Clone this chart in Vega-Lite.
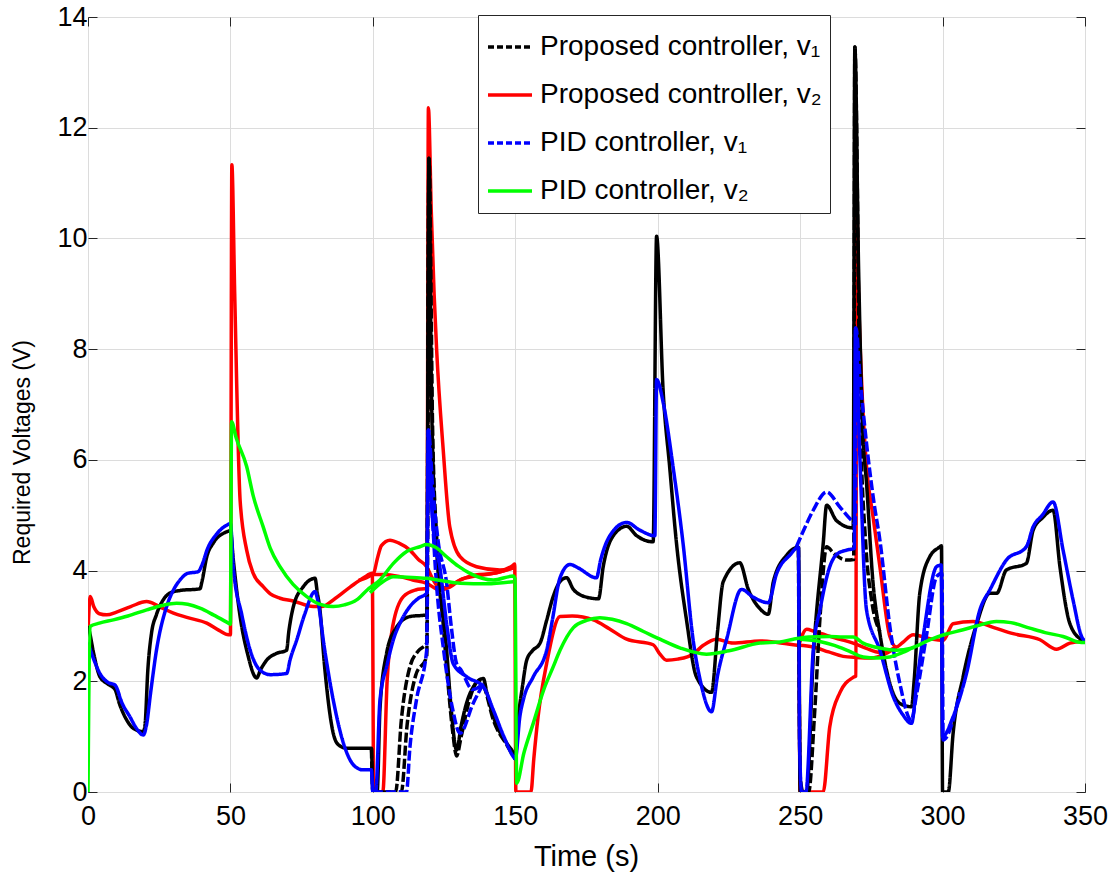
{
"$schema":"https://vega.github.io/schema/vega-lite/v6.json",
"width":997,"height":775,
"autosize":{"type":"none"},
"padding":{"left":88,"top":17,"right":30,"bottom":86},
"background":"white",
"config":{
 "font":"Liberation Sans",
 "view":{"stroke":"#262626","strokeWidth":1},
 "axis":{"domain":false,"tickColor":"#262626","tickSize":-9,"tickWidth":1,"labelColor":"black","labelFontSize":27,"labelFont":"Liberation Sans","labelFlush":false,"labelOverlap":false,"titleColor":"black","titleFontWeight":"normal","titleFont":"Liberation Sans","gridColor":"#dcdcdc","gridWidth":1}
},
"data":{"values":[
{"series":"Proposed controller, v₁","run":"a","t":0,"v":3.0},
{"series":"Proposed controller, v₁","run":"a","t":0.5,"v":2.9},
{"series":"Proposed controller, v₁","run":"a","t":2,"v":2.5},
{"series":"Proposed controller, v₁","run":"a","t":4.2,"v":2.08},
{"series":"Proposed controller, v₁","run":"a","t":7,"v":1.95},
{"series":"Proposed controller, v₁","run":"a","t":9.5,"v":1.85},
{"series":"Proposed controller, v₁","run":"a","t":11,"v":1.6},
{"series":"Proposed controller, v₁","run":"a","t":13.6,"v":1.3},
{"series":"Proposed controller, v₁","run":"a","t":15.9,"v":1.15},
{"series":"Proposed controller, v₁","run":"a","t":19.4,"v":1.09},
{"series":"Proposed controller, v₁","run":"a","t":20,"v":1.2},
{"series":"Proposed controller, v₁","run":"a","t":21,"v":2.2},
{"series":"Proposed controller, v₁","run":"a","t":22.3,"v":2.87},
{"series":"Proposed controller, v₁","run":"a","t":24,"v":3.2},
{"series":"Proposed controller, v₁","run":"a","t":26.4,"v":3.47},
{"series":"Proposed controller, v₁","run":"a","t":29,"v":3.6},
{"series":"Proposed controller, v₁","run":"a","t":32.3,"v":3.64},
{"series":"Proposed controller, v₁","run":"a","t":39.3,"v":3.67},
{"series":"Proposed controller, v₁","run":"a","t":40,"v":3.8},
{"series":"Proposed controller, v₁","run":"a","t":41.7,"v":4.25},
{"series":"Proposed controller, v₁","run":"a","t":44,"v":4.5},
{"series":"Proposed controller, v₁","run":"a","t":48.7,"v":4.7},
{"series":"Proposed controller, v₁","run":"a","t":50,"v":4.72},
{"series":"Proposed controller, v₁","run":"a","t":51,"v":4.2},
{"series":"Proposed controller, v₁","run":"a","t":53.4,"v":3.17},
{"series":"Proposed controller, v₁","run":"a","t":56,"v":2.5},
{"series":"Proposed controller, v₁","run":"a","t":59.2,"v":2.06},
{"series":"Proposed controller, v₁","run":"a","t":60.5,"v":2.2},
{"series":"Proposed controller, v₁","run":"a","t":62.7,"v":2.38},
{"series":"Proposed controller, v₁","run":"a","t":66,"v":2.5},
{"series":"Proposed controller, v₁","run":"a","t":69.7,"v":2.56},
{"series":"Proposed controller, v₁","run":"a","t":70.5,"v":2.9},
{"series":"Proposed controller, v₁","run":"a","t":72.1,"v":3.35},
{"series":"Proposed controller, v₁","run":"a","t":75.6,"v":3.71},
{"series":"Proposed controller, v₁","run":"a","t":79.7,"v":3.86},
{"series":"Proposed controller, v₁","run":"a","t":80.5,"v":3.6},
{"series":"Proposed controller, v₁","run":"a","t":81.4,"v":3.3},
{"series":"Proposed controller, v₁","run":"a","t":83,"v":2.3},
{"series":"Proposed controller, v₁","run":"a","t":86.1,"v":1.06},
{"series":"Proposed controller, v₁","run":"a","t":88,"v":0.85},
{"series":"Proposed controller, v₁","run":"a","t":90.8,"v":0.79},
{"series":"Proposed controller, v₁","run":"a","t":99.5,"v":0.79},
{"series":"Proposed controller, v₁","run":"a","t":100,"v":0},
{"series":"Proposed controller, v₁","run":"a","t":101.5,"v":0},
{"series":"Proposed controller, v₁","run":"a","t":102.5,"v":1.5},
{"series":"Proposed controller, v₁","run":"a","t":104.8,"v":2.5},
{"series":"Proposed controller, v₁","run":"a","t":108,"v":2.95},
{"series":"Proposed controller, v₁","run":"a","t":113,"v":3.17},
{"series":"Proposed controller, v₁","run":"a","t":118.9,"v":3.2},
{"series":"Proposed controller, v₁","run":"a","t":119.7,"v":11.45},
{"series":"Proposed controller, v₁","run":"a","t":120.5,"v":7.5},
{"series":"Proposed controller, v₁","run":"a","t":121.5,"v":5.3},
{"series":"Proposed controller, v₁","run":"a","t":122.4,"v":4.37},
{"series":"Proposed controller, v₁","run":"a","t":125.9,"v":2.56},
{"series":"Proposed controller, v₁","run":"a","t":127.5,"v":1.5},
{"series":"Proposed controller, v₁","run":"a","t":129.4,"v":0.76},
{"series":"Proposed controller, v₁","run":"a","t":131,"v":1.2},
{"series":"Proposed controller, v₁","run":"a","t":134.1,"v":1.78},
{"series":"Proposed controller, v₁","run":"a","t":138.8,"v":2.05},
{"series":"Proposed controller, v₁","run":"a","t":140,"v":1.8},
{"series":"Proposed controller, v₁","run":"a","t":142.3,"v":1.36},
{"series":"Proposed controller, v₁","run":"a","t":147,"v":0.88},
{"series":"Proposed controller, v₁","run":"a","t":149.3,"v":0.7},
{"series":"Proposed controller, v₁","run":"a","t":150,"v":0.6},
{"series":"Proposed controller, v₁","run":"a","t":151,"v":1.3},
{"series":"Proposed controller, v₁","run":"a","t":152.5,"v":1.9},
{"series":"Proposed controller, v₁","run":"a","t":154,"v":2.38},
{"series":"Proposed controller, v₁","run":"a","t":156,"v":2.55},
{"series":"Proposed controller, v₁","run":"a","t":158.7,"v":2.69},
{"series":"Proposed controller, v₁","run":"a","t":161,"v":3.1},
{"series":"Proposed controller, v₁","run":"a","t":163.3,"v":3.53},
{"series":"Proposed controller, v₁","run":"a","t":165.7,"v":3.8},
{"series":"Proposed controller, v₁","run":"a","t":168,"v":3.87},
{"series":"Proposed controller, v₁","run":"a","t":170.4,"v":3.66},
{"series":"Proposed controller, v₁","run":"a","t":175,"v":3.52},
{"series":"Proposed controller, v₁","run":"a","t":179.2,"v":3.49},
{"series":"Proposed controller, v₁","run":"a","t":180.9,"v":4.08},
{"series":"Proposed controller, v₁","run":"a","t":184.4,"v":4.63},
{"series":"Proposed controller, v₁","run":"a","t":189.1,"v":4.8},
{"series":"Proposed controller, v₁","run":"a","t":192.6,"v":4.63},
{"series":"Proposed controller, v₁","run":"a","t":198.4,"v":4.52},
{"series":"Proposed controller, v₁","run":"a","t":199.6,"v":10.04},
{"series":"Proposed controller, v₁","run":"a","t":201.9,"v":7.25},
{"series":"Proposed controller, v₁","run":"a","t":204.2,"v":5.87},
{"series":"Proposed controller, v₁","run":"a","t":206.6,"v":4.49},
{"series":"Proposed controller, v₁","run":"a","t":210.1,"v":3.11},
{"series":"Proposed controller, v₁","run":"a","t":213.6,"v":2.08},
{"series":"Proposed controller, v₁","run":"a","t":218.9,"v":1.8},
{"series":"Proposed controller, v₁","run":"a","t":221,"v":2.9},
{"series":"Proposed controller, v₁","run":"a","t":223,"v":3.8},
{"series":"Proposed controller, v₁","run":"a","t":228.8,"v":4.14},
{"series":"Proposed controller, v₁","run":"a","t":231.8,"v":3.66},
{"series":"Proposed controller, v₁","run":"a","t":235.9,"v":3.31},
{"series":"Proposed controller, v₁","run":"a","t":238.8,"v":3.21},
{"series":"Proposed controller, v₁","run":"a","t":240.6,"v":3.8},
{"series":"Proposed controller, v₁","run":"a","t":245.3,"v":4.28},
{"series":"Proposed controller, v₁","run":"a","t":249.4,"v":4.42},
{"series":"Proposed controller, v₁","run":"a","t":250,"v":0},
{"series":"Proposed controller, v₁","run":"a","t":252.3,"v":0},
{"series":"Proposed controller, v₁","run":"a","t":254.6,"v":2.42},
{"series":"Proposed controller, v₁","run":"a","t":258.1,"v":4.49},
{"series":"Proposed controller, v₁","run":"a","t":259.3,"v":5.18},
{"series":"Proposed controller, v₁","run":"a","t":262.8,"v":4.9},
{"series":"Proposed controller, v₁","run":"a","t":268.6,"v":4.77},
{"series":"Proposed controller, v₁","run":"a","t":269.2,"v":13.46},
{"series":"Proposed controller, v₁","run":"a","t":270.5,"v":9.5},
{"series":"Proposed controller, v₁","run":"a","t":272,"v":6.5},
{"series":"Proposed controller, v₁","run":"a","t":273.3,"v":5.58},
{"series":"Proposed controller, v₁","run":"a","t":275.6,"v":3.77},
{"series":"Proposed controller, v₁","run":"a","t":278,"v":2.86},
{"series":"Proposed controller, v₁","run":"a","t":281.5,"v":1.96},
{"series":"Proposed controller, v₁","run":"a","t":285,"v":1.6},
{"series":"Proposed controller, v₁","run":"a","t":289.1,"v":1.54},
{"series":"Proposed controller, v₁","run":"a","t":290,"v":2.0},
{"series":"Proposed controller, v₁","run":"a","t":292,"v":3.59},
{"series":"Proposed controller, v₁","run":"a","t":295.5,"v":4.25},
{"series":"Proposed controller, v₁","run":"a","t":299.1,"v":4.43},
{"series":"Proposed controller, v₁","run":"a","t":299.6,"v":4.45},
{"series":"Proposed controller, v₁","run":"a","t":300,"v":0},
{"series":"Proposed controller, v₁","run":"a","t":302,"v":0},
{"series":"Proposed controller, v₁","run":"a","t":303.7,"v":1.06},
{"series":"Proposed controller, v₁","run":"a","t":307.2,"v":2.08},
{"series":"Proposed controller, v₁","run":"a","t":312,"v":3.04},
{"series":"Proposed controller, v₁","run":"a","t":316.6,"v":3.59},
{"series":"Proposed controller, v₁","run":"a","t":319,"v":3.59},
{"series":"Proposed controller, v₁","run":"a","t":322.4,"v":4.01},
{"series":"Proposed controller, v₁","run":"a","t":329.4,"v":4.13},
{"series":"Proposed controller, v₁","run":"a","t":331.8,"v":4.73},
{"series":"Proposed controller, v₁","run":"a","t":335,"v":4.95},
{"series":"Proposed controller, v₁","run":"a","t":338.8,"v":5.09},
{"series":"Proposed controller, v₁","run":"a","t":341.2,"v":4.07},
{"series":"Proposed controller, v₁","run":"a","t":344.7,"v":3.04},
{"series":"Proposed controller, v₁","run":"a","t":348.8,"v":2.75},
{"series":"Proposed controller, v₁","run":"a","t":350,"v":2.72},
{"series":"Proposed controller, v₁","run":"b","t":99.5,"v":0.79},
{"series":"Proposed controller, v₁","run":"b","t":100,"v":0},
{"series":"Proposed controller, v₁","run":"b","t":108,"v":0},
{"series":"Proposed controller, v₁","run":"b","t":110,"v":1.3},
{"series":"Proposed controller, v₁","run":"b","t":113,"v":2.26},
{"series":"Proposed controller, v₁","run":"b","t":116,"v":2.55},
{"series":"Proposed controller, v₁","run":"b","t":118.9,"v":2.69},
{"series":"Proposed controller, v₁","run":"b","t":119.7,"v":11.45},
{"series":"Proposed controller, v₁","run":"b","t":121,"v":6.5},
{"series":"Proposed controller, v₁","run":"b","t":122.4,"v":4.6},
{"series":"Proposed controller, v₁","run":"b","t":124,"v":3.5},
{"series":"Proposed controller, v₁","run":"b","t":126,"v":2.2},
{"series":"Proposed controller, v₁","run":"b","t":128,"v":1.1},
{"series":"Proposed controller, v₁","run":"b","t":129.4,"v":0.65},
{"series":"Proposed controller, v₁","run":"b","t":131,"v":1.0},
{"series":"Proposed controller, v₁","run":"b","t":134.1,"v":1.7},
{"series":"Proposed controller, v₁","run":"b","t":137,"v":2.0},
{"series":"Proposed controller, v₁","run":"b","t":139,"v":1.9},
{"series":"Proposed controller, v₁","run":"b","t":142.3,"v":1.3},
{"series":"Proposed controller, v₁","run":"b","t":147,"v":0.85},
{"series":"Proposed controller, v₁","run":"b","t":150,"v":0.6},
{"series":"Proposed controller, v₁","run":"c","t":100,"v":0},
{"series":"Proposed controller, v₁","run":"c","t":110,"v":0},
{"series":"Proposed controller, v₁","run":"c","t":112,"v":1.2},
{"series":"Proposed controller, v₁","run":"c","t":115,"v":2.1},
{"series":"Proposed controller, v₁","run":"c","t":118.9,"v":2.45},
{"series":"Proposed controller, v₁","run":"c","t":119.7,"v":11.45},
{"series":"Proposed controller, v₁","run":"d","t":249.4,"v":4.42},
{"series":"Proposed controller, v₁","run":"d","t":250,"v":0.3},
{"series":"Proposed controller, v₁","run":"d","t":251,"v":0},
{"series":"Proposed controller, v₁","run":"d","t":253,"v":0},
{"series":"Proposed controller, v₁","run":"d","t":255,"v":1.36},
{"series":"Proposed controller, v₁","run":"d","t":257,"v":3.17},
{"series":"Proposed controller, v₁","run":"d","t":259.3,"v":4.43},
{"series":"Proposed controller, v₁","run":"d","t":262,"v":4.3},
{"series":"Proposed controller, v₁","run":"d","t":266.3,"v":4.19},
{"series":"Proposed controller, v₁","run":"d","t":268.8,"v":4.2},
{"series":"Proposed controller, v₁","run":"d","t":269.2,"v":13.46},
{"series":"Proposed controller, v₁","run":"d","t":271,"v":7.0},
{"series":"Proposed controller, v₁","run":"d","t":273,"v":4.5},
{"series":"Proposed controller, v₁","run":"d","t":275,"v":3.5},
{"series":"Proposed controller, v₁","run":"d","t":278,"v":2.9},
{"series":"Proposed controller, v₂","run":"a","t":0,"v":2.9},
{"series":"Proposed controller, v₂","run":"a","t":0.8,"v":3.53},
{"series":"Proposed controller, v₂","run":"a","t":2,"v":3.35},
{"series":"Proposed controller, v₂","run":"a","t":4,"v":3.22},
{"series":"Proposed controller, v₂","run":"a","t":6.6,"v":3.2},
{"series":"Proposed controller, v₂","run":"a","t":10,"v":3.25},
{"series":"Proposed controller, v₂","run":"a","t":15,"v":3.35},
{"series":"Proposed controller, v₂","run":"a","t":20.6,"v":3.44},
{"series":"Proposed controller, v₂","run":"a","t":25,"v":3.35},
{"series":"Proposed controller, v₂","run":"a","t":30,"v":3.23},
{"series":"Proposed controller, v₂","run":"a","t":35,"v":3.15},
{"series":"Proposed controller, v₂","run":"a","t":41.7,"v":3.05},
{"series":"Proposed controller, v₂","run":"a","t":46,"v":2.92},
{"series":"Proposed controller, v₂","run":"a","t":49.3,"v":2.84},
{"series":"Proposed controller, v₂","run":"a","t":50,"v":2.84},
{"series":"Proposed controller, v₂","run":"a","t":50.5,"v":11.33},
{"series":"Proposed controller, v₂","run":"a","t":51.5,"v":9.0},
{"series":"Proposed controller, v₂","run":"a","t":53.4,"v":5.27},
{"series":"Proposed controller, v₂","run":"a","t":55.7,"v":4.37},
{"series":"Proposed controller, v₂","run":"a","t":58,"v":3.95},
{"series":"Proposed controller, v₂","run":"a","t":61.5,"v":3.71},
{"series":"Proposed controller, v₂","run":"a","t":64,"v":3.58},
{"series":"Proposed controller, v₂","run":"a","t":67.4,"v":3.5},
{"series":"Proposed controller, v₂","run":"a","t":72,"v":3.45},
{"series":"Proposed controller, v₂","run":"a","t":79.1,"v":3.35},
{"series":"Proposed controller, v₂","run":"a","t":82,"v":3.35},
{"series":"Proposed controller, v₂","run":"a","t":86.1,"v":3.47},
{"series":"Proposed controller, v₂","run":"a","t":92,"v":3.7},
{"series":"Proposed controller, v₂","run":"a","t":97,"v":3.88},
{"series":"Proposed controller, v₂","run":"a","t":99.8,"v":3.95},
{"series":"Proposed controller, v₂","run":"a","t":100.3,"v":0},
{"series":"Proposed controller, v₂","run":"a","t":103.5,"v":0},
{"series":"Proposed controller, v₂","run":"a","t":105,"v":2.0},
{"series":"Proposed controller, v₂","run":"a","t":107,"v":3.0},
{"series":"Proposed controller, v₂","run":"a","t":110.7,"v":3.53},
{"series":"Proposed controller, v₂","run":"a","t":115,"v":3.65},
{"series":"Proposed controller, v₂","run":"a","t":119,"v":3.68},
{"series":"Proposed controller, v₂","run":"a","t":119.5,"v":12.36},
{"series":"Proposed controller, v₂","run":"a","t":120.5,"v":10.5},
{"series":"Proposed controller, v₂","run":"a","t":121.5,"v":9.0},
{"series":"Proposed controller, v₂","run":"a","t":122.4,"v":7.98},
{"series":"Proposed controller, v₂","run":"a","t":124.7,"v":6.18},
{"series":"Proposed controller, v₂","run":"a","t":127,"v":4.79},
{"series":"Proposed controller, v₂","run":"a","t":130.6,"v":4.25},
{"series":"Proposed controller, v₂","run":"a","t":136.4,"v":4.07},
{"series":"Proposed controller, v₂","run":"a","t":144.6,"v":4.01},
{"series":"Proposed controller, v₂","run":"a","t":149.3,"v":4.1},
{"series":"Proposed controller, v₂","run":"a","t":149.8,"v":4.12},
{"series":"Proposed controller, v₂","run":"a","t":150.2,"v":0},
{"series":"Proposed controller, v₂","run":"a","t":155.5,"v":0},
{"series":"Proposed controller, v₂","run":"a","t":156.5,"v":0.6},
{"series":"Proposed controller, v₂","run":"a","t":158,"v":1.36},
{"series":"Proposed controller, v₂","run":"a","t":161,"v":2.32},
{"series":"Proposed controller, v₂","run":"a","t":165.7,"v":3.17},
{"series":"Proposed controller, v₂","run":"a","t":170,"v":3.18},
{"series":"Proposed controller, v₂","run":"a","t":177.4,"v":3.11},
{"series":"Proposed controller, v₂","run":"a","t":183,"v":2.95},
{"series":"Proposed controller, v₂","run":"a","t":189.1,"v":2.76},
{"series":"Proposed controller, v₂","run":"a","t":198.4,"v":2.66},
{"series":"Proposed controller, v₂","run":"a","t":200.8,"v":2.49},
{"series":"Proposed controller, v₂","run":"a","t":203.1,"v":2.38},
{"series":"Proposed controller, v₂","run":"a","t":207,"v":2.4},
{"series":"Proposed controller, v₂","run":"a","t":212.4,"v":2.49},
{"series":"Proposed controller, v₂","run":"a","t":216,"v":2.65},
{"series":"Proposed controller, v₂","run":"a","t":220.6,"v":2.76},
{"series":"Proposed controller, v₂","run":"a","t":226.4,"v":2.69},
{"series":"Proposed controller, v₂","run":"a","t":235.9,"v":2.73},
{"series":"Proposed controller, v₂","run":"a","t":242,"v":2.7},
{"series":"Proposed controller, v₂","run":"a","t":247.6,"v":2.66},
{"series":"Proposed controller, v₂","run":"a","t":249.5,"v":2.65},
{"series":"Proposed controller, v₂","run":"a","t":250,"v":0},
{"series":"Proposed controller, v₂","run":"a","t":258.1,"v":0},
{"series":"Proposed controller, v₂","run":"a","t":260.4,"v":1.18},
{"series":"Proposed controller, v₂","run":"a","t":264,"v":1.8},
{"series":"Proposed controller, v₂","run":"a","t":268.6,"v":2.07},
{"series":"Proposed controller, v₂","run":"a","t":269.6,"v":2.1},
{"series":"Proposed controller, v₂","run":"a","t":269.8,"v":10.75},
{"series":"Proposed controller, v₂","run":"a","t":270.5,"v":9.0},
{"series":"Proposed controller, v₂","run":"a","t":271.5,"v":7.5},
{"series":"Proposed controller, v₂","run":"a","t":273.3,"v":5.88},
{"series":"Proposed controller, v₂","run":"a","t":275.6,"v":4.97},
{"series":"Proposed controller, v₂","run":"a","t":278,"v":4.07},
{"series":"Proposed controller, v₂","run":"a","t":281.5,"v":2.81},
{"series":"Proposed controller, v₂","run":"a","t":283.8,"v":2.62},
{"series":"Proposed controller, v₂","run":"a","t":286,"v":2.7},
{"series":"Proposed controller, v₂","run":"a","t":289.7,"v":2.84},
{"series":"Proposed controller, v₂","run":"a","t":295.5,"v":2.77},
{"series":"Proposed controller, v₂","run":"a","t":300.2,"v":2.74},
{"series":"Proposed controller, v₂","run":"a","t":303.7,"v":3.04},
{"series":"Proposed controller, v₂","run":"a","t":310.7,"v":3.08},
{"series":"Proposed controller, v₂","run":"a","t":318,"v":2.97},
{"series":"Proposed controller, v₂","run":"a","t":324.8,"v":2.86},
{"series":"Proposed controller, v₂","run":"a","t":334.2,"v":2.75},
{"series":"Proposed controller, v₂","run":"a","t":340,"v":2.58},
{"series":"Proposed controller, v₂","run":"a","t":344.7,"v":2.69},
{"series":"Proposed controller, v₂","run":"a","t":348.8,"v":2.72},
{"series":"Proposed controller, v₂","run":"a","t":350,"v":2.72},
{"series":"Proposed controller, v₂","run":"b","t":95,"v":3.82},
{"series":"Proposed controller, v₂","run":"b","t":99.8,"v":3.93},
{"series":"Proposed controller, v₂","run":"b","t":100.3,"v":3.95},
{"series":"Proposed controller, v₂","run":"b","t":101.5,"v":4.2},
{"series":"Proposed controller, v₂","run":"b","t":103,"v":4.45},
{"series":"Proposed controller, v₂","run":"b","t":106,"v":4.55},
{"series":"Proposed controller, v₂","run":"b","t":109,"v":4.5},
{"series":"Proposed controller, v₂","run":"b","t":113,"v":4.37},
{"series":"Proposed controller, v₂","run":"b","t":116,"v":4.2},
{"series":"Proposed controller, v₂","run":"b","t":118.9,"v":4.07},
{"series":"Proposed controller, v₂","run":"b","t":121,"v":3.85},
{"series":"Proposed controller, v₂","run":"b","t":123.5,"v":3.68},
{"series":"Proposed controller, v₂","run":"b","t":126,"v":3.7},
{"series":"Proposed controller, v₂","run":"b","t":130.6,"v":3.83},
{"series":"Proposed controller, v₂","run":"b","t":136,"v":3.92},
{"series":"Proposed controller, v₂","run":"b","t":142.3,"v":3.95},
{"series":"Proposed controller, v₂","run":"b","t":149.3,"v":4.05},
{"series":"Proposed controller, v₂","run":"c","t":99.8,"v":3.93},
{"series":"Proposed controller, v₂","run":"c","t":104,"v":3.93},
{"series":"Proposed controller, v₂","run":"c","t":109.5,"v":3.89},
{"series":"Proposed controller, v₂","run":"c","t":114,"v":3.83},
{"series":"Proposed controller, v₂","run":"c","t":118.9,"v":3.77},
{"series":"Proposed controller, v₂","run":"c","t":123.5,"v":3.65},
{"series":"Proposed controller, v₂","run":"c","t":127,"v":3.7},
{"series":"Proposed controller, v₂","run":"c","t":130.6,"v":3.83},
{"series":"Proposed controller, v₂","run":"c","t":136,"v":3.9},
{"series":"Proposed controller, v₂","run":"c","t":142.3,"v":3.95},
{"series":"Proposed controller, v₂","run":"c","t":149.3,"v":4.05},
{"series":"Proposed controller, v₂","run":"d","t":249.5,"v":2.65},
{"series":"Proposed controller, v₂","run":"d","t":252.3,"v":2.94},
{"series":"Proposed controller, v₂","run":"d","t":255,"v":2.9},
{"series":"Proposed controller, v₂","run":"d","t":259.3,"v":2.83},
{"series":"Proposed controller, v₂","run":"d","t":264,"v":2.76},
{"series":"Proposed controller, v₂","run":"d","t":268.6,"v":2.69},
{"series":"Proposed controller, v₂","run":"d","t":273,"v":2.6},
{"series":"Proposed controller, v₂","run":"d","t":278,"v":2.52},
{"series":"Proposed controller, v₂","run":"d","t":283.8,"v":2.62},
{"series":"Proposed controller, v₂","run":"e","t":249.5,"v":2.65},
{"series":"Proposed controller, v₂","run":"e","t":254.6,"v":2.62},
{"series":"Proposed controller, v₂","run":"e","t":260,"v":2.53},
{"series":"Proposed controller, v₂","run":"e","t":265.1,"v":2.45},
{"series":"Proposed controller, v₂","run":"e","t":269.8,"v":2.43},
{"series":"Proposed controller, v₂","run":"e","t":275,"v":2.42},
{"series":"Proposed controller, v₂","run":"e","t":280,"v":2.5},
{"series":"Proposed controller, v₂","run":"e","t":283.8,"v":2.62},
{"series":"PID controller, v₁","run":"a","t":0,"v":2.7},
{"series":"PID controller, v₁","run":"a","t":0.5,"v":2.62},
{"series":"PID controller, v₁","run":"a","t":2,"v":2.4},
{"series":"PID controller, v₁","run":"a","t":4.2,"v":2.14},
{"series":"PID controller, v₁","run":"a","t":7,"v":1.98},
{"series":"PID controller, v₁","run":"a","t":9.5,"v":1.93},
{"series":"PID controller, v₁","run":"a","t":12,"v":1.6},
{"series":"PID controller, v₁","run":"a","t":14.7,"v":1.36},
{"series":"PID controller, v₁","run":"a","t":17,"v":1.15},
{"series":"PID controller, v₁","run":"a","t":19.4,"v":1.03},
{"series":"PID controller, v₁","run":"a","t":20.5,"v":1.2},
{"series":"PID controller, v₁","run":"a","t":22,"v":1.8},
{"series":"PID controller, v₁","run":"a","t":24,"v":2.55},
{"series":"PID controller, v₁","run":"a","t":27.6,"v":3.35},
{"series":"PID controller, v₁","run":"a","t":30,"v":3.65},
{"series":"PID controller, v₁","run":"a","t":32.3,"v":3.83},
{"series":"PID controller, v₁","run":"a","t":35,"v":3.95},
{"series":"PID controller, v₁","run":"a","t":38.7,"v":3.98},
{"series":"PID controller, v₁","run":"a","t":40,"v":4.1},
{"series":"PID controller, v₁","run":"a","t":42,"v":4.4},
{"series":"PID controller, v₁","run":"a","t":45,"v":4.65},
{"series":"PID controller, v₁","run":"a","t":48.7,"v":4.82},
{"series":"PID controller, v₁","run":"a","t":50,"v":4.85},
{"series":"PID controller, v₁","run":"a","t":51,"v":4.07},
{"series":"PID controller, v₁","run":"a","t":54,"v":3.2},
{"series":"PID controller, v₁","run":"a","t":57,"v":2.55},
{"series":"PID controller, v₁","run":"a","t":60.4,"v":2.2},
{"series":"PID controller, v₁","run":"a","t":64,"v":2.12},
{"series":"PID controller, v₁","run":"a","t":69.7,"v":2.14},
{"series":"PID controller, v₁","run":"a","t":71,"v":2.4},
{"series":"PID controller, v₁","run":"a","t":73.3,"v":2.75},
{"series":"PID controller, v₁","run":"a","t":76,"v":3.2},
{"series":"PID controller, v₁","run":"a","t":79.7,"v":3.62},
{"series":"PID controller, v₁","run":"a","t":80.5,"v":3.5},
{"series":"PID controller, v₁","run":"a","t":83,"v":2.6},
{"series":"PID controller, v₁","run":"a","t":86.1,"v":1.66},
{"series":"PID controller, v₁","run":"a","t":89,"v":1.0},
{"series":"PID controller, v₁","run":"a","t":92,"v":0.58},
{"series":"PID controller, v₁","run":"a","t":94,"v":0.45},
{"series":"PID controller, v₁","run":"a","t":96.6,"v":0.4},
{"series":"PID controller, v₁","run":"a","t":99.5,"v":0.4},
{"series":"PID controller, v₁","run":"a","t":100,"v":0},
{"series":"PID controller, v₁","run":"a","t":101,"v":0},
{"series":"PID controller, v₁","run":"a","t":102.5,"v":1.66},
{"series":"PID controller, v₁","run":"a","t":105,"v":2.3},
{"series":"PID controller, v₁","run":"a","t":107.2,"v":2.75},
{"series":"PID controller, v₁","run":"a","t":110,"v":3.1},
{"series":"PID controller, v₁","run":"a","t":113,"v":3.35},
{"series":"PID controller, v₁","run":"a","t":116,"v":3.5},
{"series":"PID controller, v₁","run":"a","t":118.9,"v":3.59},
{"series":"PID controller, v₁","run":"a","t":119.5,"v":6.54},
{"series":"PID controller, v₁","run":"a","t":120.5,"v":5.3},
{"series":"PID controller, v₁","run":"a","t":121.5,"v":4.6},
{"series":"PID controller, v₁","run":"a","t":123.5,"v":4.07},
{"series":"PID controller, v₁","run":"a","t":126,"v":3.0},
{"series":"PID controller, v₁","run":"a","t":128.2,"v":2.32},
{"series":"PID controller, v₁","run":"a","t":133,"v":2.08},
{"series":"PID controller, v₁","run":"a","t":138.8,"v":1.9},
{"series":"PID controller, v₁","run":"a","t":142.3,"v":1.48},
{"series":"PID controller, v₁","run":"a","t":146,"v":1.0},
{"series":"PID controller, v₁","run":"a","t":149.3,"v":0.64},
{"series":"PID controller, v₁","run":"a","t":150,"v":0.6},
{"series":"PID controller, v₁","run":"a","t":151.6,"v":1.36},
{"series":"PID controller, v₁","run":"a","t":153,"v":1.7},
{"series":"PID controller, v₁","run":"a","t":156.3,"v":2.08},
{"series":"PID controller, v₁","run":"a","t":161,"v":2.56},
{"series":"PID controller, v₁","run":"a","t":163,"v":3.1},
{"series":"PID controller, v₁","run":"a","t":165.7,"v":3.87},
{"series":"PID controller, v₁","run":"a","t":169.2,"v":4.11},
{"series":"PID controller, v₁","run":"a","t":172,"v":4.05},
{"series":"PID controller, v₁","run":"a","t":178.5,"v":3.87},
{"series":"PID controller, v₁","run":"a","t":180,"v":4.2},
{"series":"PID controller, v₁","run":"a","t":183.2,"v":4.63},
{"series":"PID controller, v₁","run":"a","t":189.1,"v":4.87},
{"series":"PID controller, v₁","run":"a","t":193.7,"v":4.73},
{"series":"PID controller, v₁","run":"a","t":199,"v":4.63},
{"series":"PID controller, v₁","run":"a","t":199.6,"v":7.45},
{"series":"PID controller, v₁","run":"a","t":201.9,"v":7.04},
{"series":"PID controller, v₁","run":"a","t":205.4,"v":5.87},
{"series":"PID controller, v₁","run":"a","t":208.9,"v":4.49},
{"series":"PID controller, v₁","run":"a","t":212.4,"v":2.76},
{"series":"PID controller, v₁","run":"a","t":215,"v":2.0},
{"series":"PID controller, v₁","run":"a","t":218.9,"v":1.45},
{"series":"PID controller, v₁","run":"a","t":221,"v":2.1},
{"series":"PID controller, v₁","run":"a","t":224.2,"v":2.76},
{"series":"PID controller, v₁","run":"a","t":229.4,"v":3.66},
{"series":"PID controller, v₁","run":"a","t":233.5,"v":3.52},
{"series":"PID controller, v₁","run":"a","t":238.8,"v":3.42},
{"series":"PID controller, v₁","run":"a","t":241.7,"v":3.94},
{"series":"PID controller, v₁","run":"a","t":246.4,"v":4.28},
{"series":"PID controller, v₁","run":"a","t":249.4,"v":4.42},
{"series":"PID controller, v₁","run":"a","t":249.8,"v":0.88},
{"series":"PID controller, v₁","run":"a","t":250.5,"v":0},
{"series":"PID controller, v₁","run":"a","t":252,"v":0},
{"series":"PID controller, v₁","run":"a","t":254.6,"v":2.56},
{"series":"PID controller, v₁","run":"a","t":257,"v":3.3},
{"series":"PID controller, v₁","run":"a","t":260.4,"v":4.07},
{"series":"PID controller, v₁","run":"a","t":263,"v":4.3},
{"series":"PID controller, v₁","run":"a","t":266.3,"v":4.37},
{"series":"PID controller, v₁","run":"a","t":269,"v":4.4},
{"series":"PID controller, v₁","run":"a","t":269.4,"v":8.38},
{"series":"PID controller, v₁","run":"a","t":271,"v":6.0},
{"series":"PID controller, v₁","run":"a","t":273.3,"v":3.29},
{"series":"PID controller, v₁","run":"a","t":278,"v":2.56},
{"series":"PID controller, v₁","run":"a","t":282.7,"v":1.72},
{"series":"PID controller, v₁","run":"a","t":286,"v":1.4},
{"series":"PID controller, v₁","run":"a","t":289.1,"v":1.24},
{"series":"PID controller, v₁","run":"a","t":291,"v":2.0},
{"series":"PID controller, v₁","run":"a","t":293.2,"v":2.81},
{"series":"PID controller, v₁","run":"a","t":297.9,"v":4.07},
{"series":"PID controller, v₁","run":"a","t":299.5,"v":4.1},
{"series":"PID controller, v₁","run":"a","t":300,"v":1.0},
{"series":"PID controller, v₁","run":"a","t":303.7,"v":1.36},
{"series":"PID controller, v₁","run":"a","t":308.4,"v":2.14},
{"series":"PID controller, v₁","run":"a","t":313.1,"v":3.29},
{"series":"PID controller, v₁","run":"a","t":316.6,"v":3.65},
{"series":"PID controller, v₁","run":"a","t":322.4,"v":4.19},
{"series":"PID controller, v₁","run":"a","t":329.4,"v":4.43},
{"series":"PID controller, v₁","run":"a","t":331.8,"v":4.79},
{"series":"PID controller, v₁","run":"a","t":335,"v":5.0},
{"series":"PID controller, v₁","run":"a","t":338.8,"v":5.24},
{"series":"PID controller, v₁","run":"a","t":342.3,"v":4.37},
{"series":"PID controller, v₁","run":"a","t":345.8,"v":3.47},
{"series":"PID controller, v₁","run":"a","t":348.8,"v":2.81},
{"series":"PID controller, v₁","run":"a","t":350,"v":2.72},
{"series":"PID controller, v₁","run":"b","t":100,"v":0},
{"series":"PID controller, v₁","run":"b","t":111.8,"v":0},
{"series":"PID controller, v₁","run":"b","t":113,"v":0.8},
{"series":"PID controller, v₁","run":"b","t":115.3,"v":1.66},
{"series":"PID controller, v₁","run":"b","t":118.9,"v":2.56},
{"series":"PID controller, v₁","run":"b","t":119.5,"v":6.54},
{"series":"PID controller, v₁","run":"b","t":121,"v":5.5},
{"series":"PID controller, v₁","run":"b","t":123,"v":4.5},
{"series":"PID controller, v₁","run":"b","t":125.9,"v":3.77},
{"series":"PID controller, v₁","run":"b","t":127.5,"v":3.0},
{"series":"PID controller, v₁","run":"b","t":129.4,"v":2.32},
{"series":"PID controller, v₁","run":"b","t":131,"v":2.2},
{"series":"PID controller, v₁","run":"b","t":135,"v":1.85},
{"series":"PID controller, v₁","run":"b","t":138.8,"v":1.96},
{"series":"PID controller, v₁","run":"c","t":119.5,"v":6.54},
{"series":"PID controller, v₁","run":"c","t":122,"v":4.0},
{"series":"PID controller, v₁","run":"c","t":125,"v":2.5},
{"series":"PID controller, v₁","run":"c","t":128,"v":1.5},
{"series":"PID controller, v₁","run":"c","t":130.6,"v":1.06},
{"series":"PID controller, v₁","run":"c","t":135.2,"v":1.6},
{"series":"PID controller, v₁","run":"c","t":138.8,"v":1.96},
{"series":"PID controller, v₁","run":"d","t":248.7,"v":4.43},
{"series":"PID controller, v₁","run":"d","t":251,"v":4.7},
{"series":"PID controller, v₁","run":"d","t":254.6,"v":5.09},
{"series":"PID controller, v₁","run":"d","t":259.3,"v":5.42},
{"series":"PID controller, v₁","run":"d","t":263.9,"v":5.15},
{"series":"PID controller, v₁","run":"d","t":268,"v":4.91},
{"series":"PID controller, v₁","run":"d","t":269.4,"v":4.85},
{"series":"PID controller, v₁","run":"d","t":269.6,"v":8.38},
{"series":"PID controller, v₁","run":"d","t":271,"v":7.5},
{"series":"PID controller, v₁","run":"d","t":273.3,"v":6.3},
{"series":"PID controller, v₁","run":"d","t":276,"v":5.2},
{"series":"PID controller, v₁","run":"d","t":278,"v":4.55},
{"series":"PID controller, v₁","run":"d","t":281.5,"v":2.99},
{"series":"PID controller, v₁","run":"d","t":285,"v":1.96},
{"series":"PID controller, v₁","run":"d","t":289,"v":1.3},
{"series":"PID controller, v₁","run":"d","t":291,"v":1.8},
{"series":"PID controller, v₁","run":"d","t":294.3,"v":2.81},
{"series":"PID controller, v₁","run":"d","t":297.9,"v":3.89},
{"series":"PID controller, v₁","run":"d","t":299.8,"v":3.95},
{"series":"PID controller, v₁","run":"d","t":300.2,"v":0.94},
{"series":"PID controller, v₁","run":"d","t":303.7,"v":1.3},
{"series":"PID controller, v₁","run":"d","t":306,"v":1.8},
{"series":"PID controller, v₂","run":"a","t":0,"v":0},
{"series":"PID controller, v₂","run":"a","t":0.7,"v":2.99},
{"series":"PID controller, v₂","run":"a","t":4,"v":3.05},
{"series":"PID controller, v₂","run":"a","t":8.9,"v":3.11},
{"series":"PID controller, v₂","run":"a","t":14,"v":3.18},
{"series":"PID controller, v₂","run":"a","t":20.6,"v":3.29},
{"series":"PID controller, v₂","run":"a","t":26,"v":3.37},
{"series":"PID controller, v₂","run":"a","t":31.1,"v":3.41},
{"series":"PID controller, v₂","run":"a","t":35,"v":3.39},
{"series":"PID controller, v₂","run":"a","t":39.3,"v":3.32},
{"series":"PID controller, v₂","run":"a","t":44,"v":3.2},
{"series":"PID controller, v₂","run":"a","t":49.3,"v":3.05},
{"series":"PID controller, v₂","run":"a","t":50,"v":3.03},
{"series":"PID controller, v₂","run":"a","t":50.4,"v":6.69},
{"series":"PID controller, v₂","run":"a","t":52,"v":6.4},
{"series":"PID controller, v₂","run":"a","t":55.7,"v":5.88},
{"series":"PID controller, v₂","run":"a","t":58,"v":5.35},
{"series":"PID controller, v₂","run":"a","t":61.5,"v":4.79},
{"series":"PID controller, v₂","run":"a","t":64,"v":4.4},
{"series":"PID controller, v₂","run":"a","t":67.4,"v":4.07},
{"series":"PID controller, v₂","run":"a","t":72,"v":3.75},
{"series":"PID controller, v₂","run":"a","t":76.8,"v":3.53},
{"series":"PID controller, v₂","run":"a","t":81,"v":3.4},
{"series":"PID controller, v₂","run":"a","t":86.1,"v":3.35},
{"series":"PID controller, v₂","run":"a","t":90,"v":3.38},
{"series":"PID controller, v₂","run":"a","t":94.3,"v":3.47},
{"series":"PID controller, v₂","run":"a","t":98,"v":3.65},
{"series":"PID controller, v₂","run":"a","t":102.5,"v":3.83},
{"series":"PID controller, v₂","run":"a","t":107.2,"v":4.13},
{"series":"PID controller, v₂","run":"a","t":112,"v":4.35},
{"series":"PID controller, v₂","run":"a","t":116.5,"v":4.43},
{"series":"PID controller, v₂","run":"a","t":118.9,"v":4.47},
{"series":"PID controller, v₂","run":"a","t":122,"v":4.42},
{"series":"PID controller, v₂","run":"a","t":125.9,"v":4.25},
{"series":"PID controller, v₂","run":"a","t":130,"v":4.08},
{"series":"PID controller, v₂","run":"a","t":134.1,"v":3.95},
{"series":"PID controller, v₂","run":"a","t":142.3,"v":3.83},
{"series":"PID controller, v₂","run":"a","t":149.3,"v":3.9},
{"series":"PID controller, v₂","run":"a","t":149.9,"v":3.85},
{"series":"PID controller, v₂","run":"a","t":150.5,"v":0.16},
{"series":"PID controller, v₂","run":"a","t":153,"v":0.7},
{"series":"PID controller, v₂","run":"a","t":156.3,"v":1.24},
{"series":"PID controller, v₂","run":"a","t":160,"v":1.85},
{"series":"PID controller, v₂","run":"a","t":163.3,"v":2.26},
{"series":"PID controller, v₂","run":"a","t":165.7,"v":2.56},
{"series":"PID controller, v₂","run":"a","t":170.4,"v":2.97},
{"series":"PID controller, v₂","run":"a","t":175,"v":3.1},
{"series":"PID controller, v₂","run":"a","t":179.7,"v":3.15},
{"series":"PID controller, v₂","run":"a","t":184,"v":3.12},
{"series":"PID controller, v₂","run":"a","t":189.1,"v":3.04},
{"series":"PID controller, v₂","run":"a","t":195,"v":2.9},
{"series":"PID controller, v₂","run":"a","t":200.8,"v":2.76},
{"series":"PID controller, v₂","run":"a","t":208,"v":2.6},
{"series":"PID controller, v₂","run":"a","t":217.1,"v":2.49},
{"series":"PID controller, v₂","run":"a","t":225,"v":2.55},
{"series":"PID controller, v₂","run":"a","t":235.9,"v":2.69},
{"series":"PID controller, v₂","run":"a","t":242.9,"v":2.71},
{"series":"PID controller, v₂","run":"a","t":247.6,"v":2.76},
{"series":"PID controller, v₂","run":"a","t":253,"v":2.8},
{"series":"PID controller, v₂","run":"a","t":260.4,"v":2.81},
{"series":"PID controller, v₂","run":"a","t":265,"v":2.8},
{"series":"PID controller, v₂","run":"a","t":268.6,"v":2.8},
{"series":"PID controller, v₂","run":"a","t":272.1,"v":2.69},
{"series":"PID controller, v₂","run":"a","t":278,"v":2.6},
{"series":"PID controller, v₂","run":"a","t":283.8,"v":2.56},
{"series":"PID controller, v₂","run":"a","t":289,"v":2.6},
{"series":"PID controller, v₂","run":"a","t":295.5,"v":2.75},
{"series":"PID controller, v₂","run":"a","t":301,"v":2.85},
{"series":"PID controller, v₂","run":"a","t":307.2,"v":2.93},
{"series":"PID controller, v₂","run":"a","t":312,"v":3.0},
{"series":"PID controller, v₂","run":"a","t":318.9,"v":3.08},
{"series":"PID controller, v₂","run":"a","t":324,"v":3.06},
{"series":"PID controller, v₂","run":"a","t":330.6,"v":2.96},
{"series":"PID controller, v₂","run":"a","t":336,"v":2.88},
{"series":"PID controller, v₂","run":"a","t":342.3,"v":2.81},
{"series":"PID controller, v₂","run":"a","t":348.8,"v":2.7},
{"series":"PID controller, v₂","run":"a","t":350,"v":2.7},
{"series":"PID controller, v₂","run":"b","t":99,"v":3.6},
{"series":"PID controller, v₂","run":"b","t":103,"v":3.78},
{"series":"PID controller, v₂","run":"b","t":107.2,"v":3.89},
{"series":"PID controller, v₂","run":"b","t":112,"v":3.88},
{"series":"PID controller, v₂","run":"b","t":118.9,"v":3.86},
{"series":"PID controller, v₂","run":"b","t":124,"v":3.82},
{"series":"PID controller, v₂","run":"b","t":130.6,"v":3.77},
{"series":"PID controller, v₂","run":"b","t":140,"v":3.76},
{"series":"PID controller, v₂","run":"b","t":149.3,"v":3.8},
{"series":"PID controller, v₂","run":"c","t":250,"v":2.76},
{"series":"PID controller, v₂","run":"c","t":256.9,"v":2.72},
{"series":"PID controller, v₂","run":"c","t":262,"v":2.65},
{"series":"PID controller, v₂","run":"c","t":267,"v":2.55},
{"series":"PID controller, v₂","run":"c","t":272.1,"v":2.44},
{"series":"PID controller, v₂","run":"c","t":277,"v":2.42},
{"series":"PID controller, v₂","run":"c","t":281.5,"v":2.44},
{"series":"PID controller, v₂","run":"c","t":286,"v":2.52},
{"series":"PID controller, v₂","run":"c","t":290,"v":2.62}
]},
"encoding":{
 "x":{"field":"t","type":"quantitative","scale":{"domain":[0,350],"nice":false,"zero":false}},
 "y":{"field":"v","type":"quantitative","scale":{"domain":[0,14],"nice":false}},
 "color":{"field":"series","type":"nominal",
  "scale":{"domain":["Proposed controller, v₁","Proposed controller, v₂","PID controller, v₁","PID controller, v₂"],"range":["#000000","#ff0000","#0000ff","#00ff00"]},
  "legend":{"orient":"none","legendX":390,"legendY":-2,"title":null,"symbolType":"stroke","symbolSize":1936,"symbolStrokeWidth":3.5,"labelFontSize":28,"labelFont":"Liberation Sans","labelColor":"black","labelLimit":500,"labelOffset":6,"rowPadding":10,"padding":8,"strokeColor":"#262626","fillColor":"white","cornerRadius":0,
   "encode":{"symbols":{"update":{"strokeDash":{"signal":"indexof(datum.value, '₁') >= 0 ? [6,3] : [1,0]"}}}}}
 }
},
"layer":[
 {"transform":[{"filter":"datum.series === 'Proposed controller, v₂'"}],
  "mark":{"type":"line","strokeWidth":3.5,"clip":true,"interpolate":"monotone"},
  "encoding":{
   "x":{"field":"t","type":"quantitative","axis":{"orient":"bottom","values":[0,50,100,150,200,250,300,350],"grid":true,"labelPadding":20,"labelFontSize":27,"title":"Time (s)","titleFontSize":29,"titleX":498,"titleY":64,"titleBaseline":"middle","titleAnchor":"middle"}},
   "y":{"field":"v","type":"quantitative","axis":{"orient":"left","values":[0,2,4,6,8,10,12,14],"grid":true,"labelPadding":10,"labelFontSize":27,"title":"Required Voltages (V)","titleFontSize":23,"titleX":-66,"titleY":435,"titleBaseline":"middle","titleAnchor":"middle"}},
   "detail":{"field":"run"}
  }},
 {"transform":[{"filter":"datum.series === 'Proposed controller, v₁'"}],
  "mark":{"type":"line","strokeWidth":3.5,"clip":true,"interpolate":"monotone"},
  "encoding":{
   "x":{"field":"t","type":"quantitative","axis":{"orient":"top","values":[0,50,100,150,200,250,300,350],"grid":false,"labels":false,"title":null}},
   "y":{"field":"v","type":"quantitative","axis":{"orient":"right","values":[0,2,4,6,8,10,12,14],"grid":false,"labels":false,"title":null}},
   "strokeDash":{"field":"run","type":"nominal","scale":{"domain":["a","b","c","d","e"],"range":[[1,0],[10,3],[10,3],[10,3],[10,3]]},"legend":null}
  }},
 {"transform":[{"filter":"datum.series === 'PID controller, v₁'"}],
  "mark":{"type":"line","strokeWidth":3.5,"clip":true,"interpolate":"monotone"},
  "encoding":{
   "x":{"field":"t","type":"quantitative","axis":null},
   "y":{"field":"v","type":"quantitative","axis":null},
   "strokeDash":{"field":"run","type":"nominal","legend":null}
  }},
 {"transform":[{"filter":"datum.series === 'PID controller, v₂'"}],
  "mark":{"type":"line","strokeWidth":3.5,"clip":true,"interpolate":"monotone"},
  "encoding":{
   "x":{"field":"t","type":"quantitative","axis":null},
   "y":{"field":"v","type":"quantitative","axis":null},
   "detail":{"field":"run"}
  }}
],
"resolve":{"axis":{"x":"independent","y":"independent"}}
}
